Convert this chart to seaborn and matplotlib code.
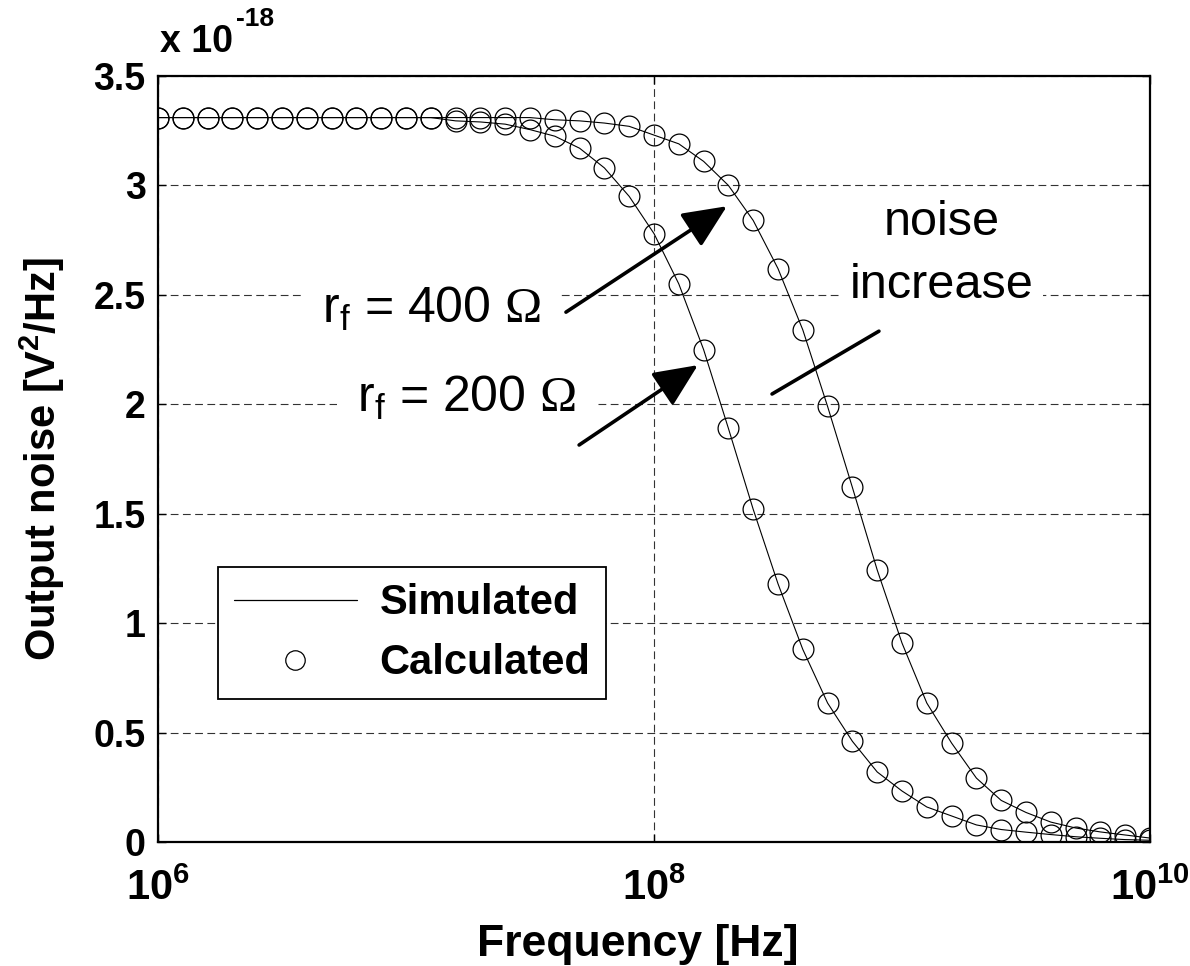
import numpy as np
import pandas as pd
import matplotlib
matplotlib.use("Agg")
import matplotlib.pyplot as plt
import seaborn as sns
from matplotlib.lines import Line2D
from matplotlib.ticker import NullLocator

# ---------------- data ----------------
log10_freq = [6.0, 6.1, 6.2, 6.3, 6.4, 6.5, 6.6, 6.7, 6.8, 6.9,
              7.0, 7.1, 7.2, 7.3, 7.4, 7.5, 7.6, 7.7, 7.8, 7.9,
              8.0, 8.1, 8.2, 8.3, 8.4, 8.5, 8.6, 8.7, 8.8, 8.9,
              9.0, 9.1, 9.2, 9.3, 9.4, 9.5, 9.6, 9.7, 9.8, 9.9, 10.0]

# output noise in units of 1e-18 V^2/Hz
noise_rf200 = [3.31, 3.31, 3.31, 3.31, 3.31, 3.31, 3.31, 3.31, 3.31, 3.31,
               3.31, 3.31, 3.295, 3.29, 3.28, 3.255, 3.225, 3.17, 3.08, 2.95,
               2.78, 2.55, 2.25, 1.89, 1.52, 1.18, 0.88, 0.635, 0.46, 0.32,
               0.233, 0.16, 0.119, 0.078, 0.057, 0.045, 0.034, 0.024, 0.017, 0.011, 0.008]

noise_rf400 = [3.31, 3.31, 3.31, 3.31, 3.31, 3.31, 3.31, 3.31, 3.31, 3.31,
               3.31, 3.31, 3.31, 3.31, 3.31, 3.31, 3.30, 3.295, 3.285, 3.27,
               3.23, 3.19, 3.11, 3.00, 2.84, 2.62, 2.34, 1.99, 1.62, 1.243,
               0.909, 0.635, 0.452, 0.292, 0.19, 0.135, 0.091, 0.064, 0.046, 0.032, 0.018]

series_names = ["rf200", "rf400"]
x_tick_exponents = [6, 8, 10]
y_ticks = [0, 0.5, 1, 1.5, 2, 2.5, 3, 3.5]
y_tick_labels = ["0", "0.5", "1", "1.5", "2", "2.5", "3", "3.5"]
legend_labels = ["Simulated", "Calculated"]

# ---------------- styling ----------------
sns.set_theme(style="ticks")
plt.rcParams["font.family"] = ["Liberation Sans", "DejaVu Sans"]
plt.rcParams["mathtext.fontset"] = "custom"
plt.rcParams["mathtext.rm"] = "Liberation Sans"
plt.rcParams["mathtext.it"] = "Liberation Sans:italic"
plt.rcParams["mathtext.bf"] = "Liberation Sans:bold"
plt.rcParams["mathtext.sf"] = "Liberation Serif"
for key in ["text.color", "axes.labelcolor", "xtick.color", "ytick.color",
            "axes.edgecolor"]:
    plt.rcParams[key] = "black"

freq = [10 ** v for v in log10_freq]
df = pd.DataFrame({
    "freq": freq * 2,
    "noise": noise_rf200 + noise_rf400,
    "series": [series_names[0]] * len(freq) + [series_names[1]] * len(freq),
})

fig = plt.figure(figsize=(11.9, 9.66), dpi=100)
ax = fig.add_axes([158 / 1190, 1 - 842 / 966, 992 / 1190, 766 / 966])
ax.set_xscale("log")

# simulated (line)
sns.lineplot(data=df, x="freq", y="noise", units="series", estimator=None,
             color="black", linewidth=0.8, ax=ax, legend=False, sort=True)
# calculated (open circles)
sns.lineplot(data=df, x="freq", y="noise", units="series", estimator=None,
             color="black", linestyle="none", marker="o", markersize=15,
             markerfacecolor="none", markeredgecolor="black",
             markeredgewidth=0.9, ax=ax, legend=False)

ax.set_xlim(1e6, 1e10)
ax.set_ylim(0, 3.5)

ax.set_xticks([10.0 ** e for e in x_tick_exponents])
ax.set_xticklabels([r"$\mathbf{10^{%d}}$" % e for e in x_tick_exponents])
ax.xaxis.set_minor_locator(NullLocator())
ax.set_yticks(y_ticks)
ax.set_yticklabels(y_tick_labels)

ax.tick_params(axis="both", direction="in", length=6, width=1.0,
               top=True, right=True, colors="black")
ax.tick_params(axis="y", labelsize=27, pad=9)
ax.tick_params(axis="x", labelsize=30, pad=19)
for lab in ax.get_yticklabels():
    lab.set_fontweight("bold")

ax.grid(True, which="major", linestyle=(0, (7, 4)), color="0.2", linewidth=0.8)
ax.set_axisbelow(True)
for sp in ax.spines.values():
    sp.set_visible(True)
    sp.set_linewidth(1.6)
    sp.set_color("black")

ax.set_xlabel("Frequency [Hz]", fontsize=32, fontweight="bold")
ax.set_ylabel(r"Output noise [V$^{\mathbf{2}}$/Hz]", fontsize=30, fontweight="bold")
ax.xaxis.set_label_coords(0.484, -0.107)
ax.yaxis.set_label_coords(-0.092, 0.5)

# exponent multiplier
fig.text(160 / 1190, 1 - 52 / 966, "x 10", fontsize=27, fontweight="bold",
         ha="left", va="baseline")
fig.text(236 / 1190, 1 - 26 / 966, "-18", fontsize=19, fontweight="bold",
         ha="left", va="baseline")

# annotations
box = dict(boxstyle="square,pad=0.4", facecolor="white", edgecolor="none")
ax.text(10 ** 6.661, 2.371, r"r$_{\mathrm{f}}$ = 400 $\mathsf{\Omega}$", fontsize=36,
        ha="left", va="baseline", bbox=box, zorder=3)
ax.text(10 ** 6.802, 1.964, r"r$_{\mathrm{f}}$ = 200 $\mathsf{\Omega}$", fontsize=36,
        ha="left", va="baseline", bbox=box, zorder=3)
ax.text(10 ** 9.159, 2.773, "noise", fontsize=35, ha="center", va="baseline", zorder=3)
ax.text(10 ** 9.159, 2.485, "increase", fontsize=35, ha="center", va="baseline",
        bbox=dict(boxstyle="square,pad=0.2", facecolor="white", edgecolor="none"), zorder=3)

arrow = dict(arrowstyle="-|>,head_length=1.0,head_width=0.45", color="black",
             lw=2.6, mutation_scale=27, shrinkA=0, shrinkB=0)
ax.annotate("", xy=(10 ** 8.294, 2.905), xytext=(10 ** 7.645, 2.421),
            arrowprops=arrow, zorder=4)
ax.annotate("", xy=(10 ** 8.177, 2.179), xytext=(10 ** 7.698, 1.814),
            arrowprops=arrow, zorder=4)
ax.annotate("", xy=(10 ** 8.907, 2.334), xytext=(10 ** 8.476, 2.047),
            arrowprops=dict(arrowstyle="-", color="black", lw=2.6,
                            shrinkA=0, shrinkB=0), zorder=4)

# legend
handles = [Line2D([], [], color="black", lw=0.9),
           Line2D([], [], color="black", ls="none", marker="o", markersize=14,
                  markerfacecolor="none", markeredgewidth=0.9)]
leg = ax.legend(handles, legend_labels, loc="lower left",
                bbox_to_anchor=(60 / 992, (842 - 699) / 766), borderaxespad=0,
                prop={"family": "Liberation Sans", "weight": "bold", "size": 30},
                frameon=True, fancybox=False, framealpha=1, edgecolor="black",
                handlelength=2.95, handletextpad=0.55, borderpad=0.38,
                labelspacing=0.48)
leg.get_frame().set_linewidth(1.3)
for t in leg.get_texts():
    t.set_color("black")

fig.savefig("out.png", dpi=100, facecolor="white")
